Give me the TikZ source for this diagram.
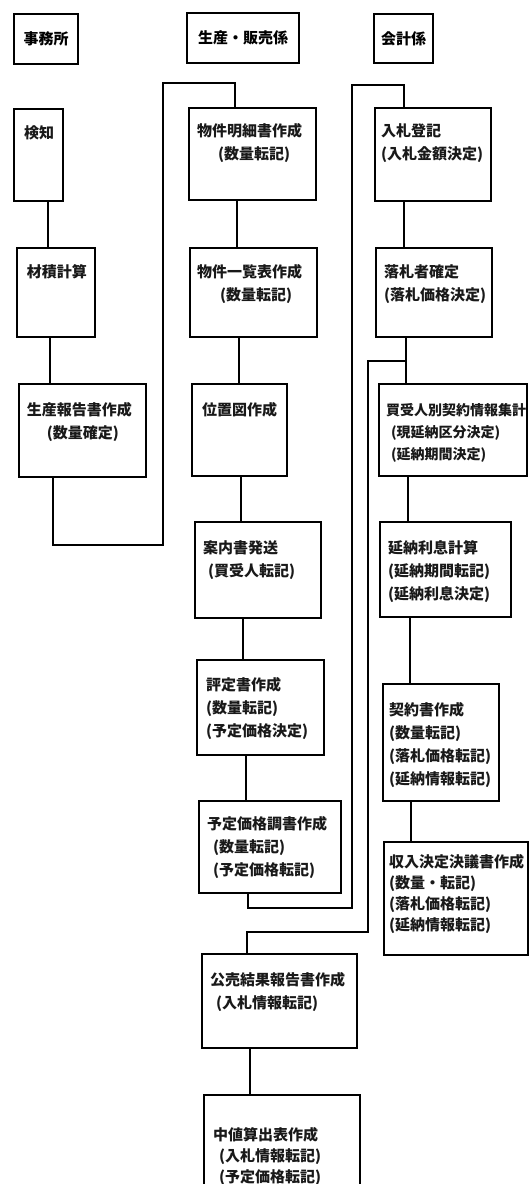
\documentclass[tikz,border=0pt]{standalone}
\usepackage{fontspec}
\newfontfamily\jp{Noto Sans CJK JP}
\begin{document}
\begin{tikzpicture}[x=1pt,y=-1pt,
  box/.style={draw=black, line width=1.6pt, inner sep=0pt, outer sep=0pt, anchor=north west},
  hbox/.style={box, line width=2pt, font=\jp\bfseries\fontsize{15}{18}\selectfont},
  txt/.style={anchor=north west, inner sep=0pt, outer sep=0pt, align=left, text=black!90, font=\jp\bfseries\fontsize{15}{23}\selectfont},
  txtb/.style={txt, font=\jp\bfseries\fontsize{15}{21}\selectfont},
  conn/.style={draw=black, line width=1.2pt}]
\useasboundingbox (0,0) rectangle (530,1184);
\fill[white] (0,0) rectangle (530,1184);
\clip (0,0) rectangle (530,1184);

% headers
\node[hbox, minimum width=64pt, minimum height=50pt] (h1) at (14,14) {事務所};
\node[hbox, minimum width=112pt, minimum height=50pt] (h2) at (187,13) {生産・販売係};
\node[hbox, minimum width=59pt, minimum height=49pt] (h3) at (374,14) {会計係};

% column 1
\node[box, minimum width=49pt, minimum height=92pt] (k) at (14,109) {};
\node[box, minimum width=78pt, minimum height=89pt] (z) at (17,248) {};
\node[box, minimum width=127pt, minimum height=93pt] (s) at (19,384) {};

% column 2
\node[box, minimum width=127pt, minimum height=92pt] (m1) at (189,108) {};
\node[box, minimum width=127pt, minimum height=89pt] (m2) at (190,248) {};
\node[box, minimum width=95pt, minimum height=92pt] (m3) at (192,384) {};
\node[box, minimum width=126pt, minimum height=96pt] (m4) at (195,522) {};
\node[box, minimum width=127pt, minimum height=95pt] (m5) at (197,660) {};
\node[box, minimum width=142pt, minimum height=92pt] (m6) at (199,801) {};

% column 3
\node[box, minimum width=116pt, minimum height=93pt] (r1) at (375,108) {};
\node[box, minimum width=116pt, minimum height=89pt] (r2) at (376,248) {};
\node[box, minimum width=148pt, minimum height=92pt] (r3) at (379,384) {};
\node[box, minimum width=131pt, minimum height=95pt] (r4) at (380,522) {};
\node[box, minimum width=116pt, minimum height=117pt] (r5) at (383,684) {};
\node[box, minimum width=144pt, minimum height=113pt] (r6) at (384,842) {};

% bottom
\node[box, minimum width=155pt, minimum height=94pt] (b1) at (202,954) {};
\node[box, minimum width=156pt, minimum height=110pt] (b2) at (204,1095) {};

% texts
\node[txt] (tk) at (24,122.4) {\strut 検知};
\node[txt] (tz) at (27,261.4) {\strut 材積計算};
\node[txt] (ts) at (27,399.4) {\strut 生産報告書作成\\\hspace{20pt}(数量確定)};
\node[txt] (tm1) at (197,120.4) {\strut 物件明細書作成\\\hspace{21pt}(数量転記)};
\node[txt] (tm2) at (197,261.4) {\strut 物件一覧表作成\\\hspace{23pt}(数量転記)};
\node[txt] (tm3) at (202,399.4) {\strut 位置図作成};
\node[txt] (tm4) at (203,537.4) {\strut 案内書発送\\\hspace{5pt}(買受人転記)};
\node[txt] (tm5) at (206,674.4) {\strut 評定書作成\\(数量転記)\\(予定価格決定)};
\node[txt] (tm6) at (207,813.4) {\strut 予定価格調書作成\\\hspace{6pt}(数量転記)\\\hspace{6pt}(予定価格転記)};
\node[txt] (tr1) at (381,120.4) {\strut 入札登記\\(入札金額決定)};
\node[txt] (tr2) at (384,261.4) {\strut 落札者確定\\(落札価格決定)};
\node[txt, font=\jp\bfseries\fontsize{14}{22}\selectfont] (tr3) at (386,400.5) {\strut 買受人別契約情報集計\\\hspace{5pt}(現延納区分決定)\\\hspace{5pt}(延納期間決定)};
\node[txt] (tr4) at (388,537.4) {\strut 延納利息計算\\(延納期間転記)\\(延納利息決定)};
\node[txt] (tr5) at (389,699.4) {\strut 契約書作成\\(数量転記)\\(落札価格転記)\\(延納情報転記)};
\node[txtb] (tr6) at (389,852.8) {\strut 収入決定決議書作成\\(数量・転記)\\(落札価格転記)\\(延納情報転記)};
\node[txt] (tb1) at (210,969.4) {\strut 公売結果報告書作成\\\hspace{6pt}(入札情報転記)};
\node[txtb] (tb2) at (213,1125.8) {\strut 中値算出表作成\\\hspace{6pt}(入札情報転記)\\\hspace{6pt}(予定価格転記)};

% connector points
\path (k.south west) ++(34,0) coordinate (ck);
\path (z.south west) ++(33,0) coordinate (cz);
\path (s.south west) ++(34,0) coordinate (cs);
\path (m1.north west) ++(46,0) coordinate (cm1t);
\path (m1.south west) ++(48,0) coordinate (cm1);
\path (m2.south west) ++(49,0) coordinate (cm2);
\path (m3.south west) ++(49,0) coordinate (cm3);
\path (m4.south west) ++(48,0) coordinate (cm4);
\path (m5.south west) ++(49,0) coordinate (cm5);
\path (m6.south west) ++(49,0) coordinate (cm6);
\path (r1.north west) ++(29,0) coordinate (cr1t);
\path (r1.south west) ++(29,0) coordinate (cr1);
\path (r2.south west) ++(30,0) coordinate (cr2);
\path (r3.south west) ++(29,0) coordinate (cr3);
\path (r4.south west) ++(30,0) coordinate (cr4);
\path (r5.south west) ++(28,0) coordinate (cr5);
\path (b1.north west) ++(45,0) coordinate (cb1t);
\path (b1.south west) ++(48,0) coordinate (cb1);

\coordinate (L1) at (163,545);
\coordinate (L2) at (163,83);
\coordinate (L3) at (352,908);
\coordinate (L4) at (352,85);
\coordinate (L5) at (368,361);
\coordinate (L6) at (247,932);

% vertical links
\draw[conn] (ck) -- (ck |- z.north);
\draw[conn] (cz) -- (cz |- s.north);
\draw[conn] (cm1) -- (cm1 |- m2.north);
\draw[conn] (cm2) -- (cm2 |- m3.north);
\draw[conn] (cm3) -- (cm3 |- m4.north);
\draw[conn] (cm4) -- (cm4 |- m5.north);
\draw[conn] (cm5) -- (cm5 |- m6.north);
\draw[conn] (cr1) -- (cr1 |- r2.north);
\draw[conn] (cr2) -- (cr2 |- r3.north);
\draw[conn] (cr3) -- (cr3 |- r4.north);
\draw[conn] (cr4) -- (cr4 |- r5.north);
\draw[conn] (cr5) -- (cr5 |- r6.north);
\draw[conn] (cb1) -- (cb1 |- b2.north);

% loops
\draw[conn] (cs) |- (L1) -- (L2) -| (cm1t);
\draw[conn] (cm6) |- (L3) -- (L4) -| (cr1t);
\draw[conn] (cr2 |- L5) -- (L5) |- (L6) -- (cb1t);
\end{tikzpicture}
\end{document}
